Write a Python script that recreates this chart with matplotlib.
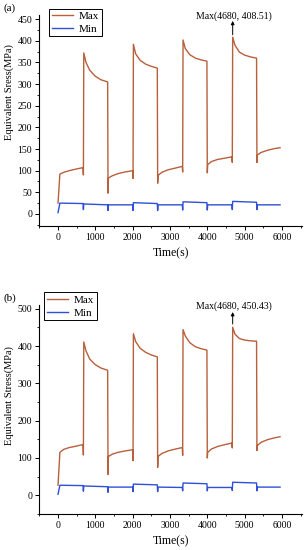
import matplotlib
matplotlib.use('Agg')
import matplotlib.pyplot as plt
from matplotlib.ticker import MultipleLocator

plt.rcParams['font.family'] = ['Liberation Serif', 'DejaVu Serif']

# time points (s)
time_max = [0, 50, 150, 300, 500, 670,
            680, 690, 750, 850, 1000, 1150, 1330,
            1340, 1350, 1450, 1600, 1800, 2000,
            2010, 2020, 2080, 2200, 2350, 2500, 2660,
            2670, 2680, 2780, 2950, 3150, 3330,
            3340, 3350, 3410, 3530, 3680, 3830, 3990,
            4000, 4010, 4110, 4280, 4480, 4660,
            4670, 4680, 4740, 4860, 5000, 5150, 5320,
            5330, 5340, 5440, 5610, 5800, 5950]
time_min = [0, 50, 670, 680, 690, 1330, 1340, 1350, 2000,
            2010, 2020, 2660, 2670, 2680, 3330, 3340, 3350, 3990,
            4000, 4010, 4660, 4670, 4680, 5320, 5330, 5340, 5950]

# panel (a)
max_a = [25, 92, 96, 100, 104, 107,
         90, 372, 350, 332, 318, 310, 305,
         48, 83, 88, 93, 97, 100,
         82, 392, 370, 355, 346, 341, 337,
         71, 89, 96, 102, 106, 110,
         97, 402, 382, 368, 360, 356, 353,
         95, 114, 121, 126, 129, 132,
         119, 408.51, 390, 374, 367, 363, 360,
         119, 136, 142, 147, 151, 153]
min_a = [3, 25, 24, 10, 23, 21, 8, 21, 21,
         8, 26, 24, 8, 21, 21, 9, 28, 26,
         9, 21, 21, 10, 29, 27, 10, 21, 21]

# panel (b)
max_b = [27, 115, 123, 128, 132, 136,
         108, 411, 387, 365, 350, 341, 335,
         56, 104, 110, 115, 119, 122,
         93, 433, 412, 394, 383, 376, 371,
         75, 104, 112, 119, 124, 128,
         107, 444, 427, 409, 398, 393, 389,
         100, 115, 124, 131, 136, 140,
         127, 450.43, 432, 420, 416, 414, 413,
         120, 133, 142, 149, 154, 157]
min_b = [3, 27, 26, 11, 25, 23, 8, 22, 22,
         10, 30, 28, 10, 22, 21, 12, 33, 31,
         12, 21, 21, 13, 35, 33, 12, 22, 22]

max_color = '#b8603c'
min_color = '#2f4fd6'

fig = plt.figure(figsize=(3.07, 5.50), dpi=100)
ax_a = fig.add_axes([0.127, 0.589, 0.857, 0.384])
ax_b = fig.add_axes([0.127, 0.0655, 0.857, 0.380])

panels = [
    (ax_a, max_a, min_a, (-28, 460), 50, 25, 'Equivalent Sress(MPa)', 0.635,
     'Max(4680, 408.51)', 457, (446, 414), (0.038, 1.03)),
    (ax_b, max_b, min_b, (-50, 510), 100, 50, 'Equivalent Stress(MPa)', 0.565,
     'Max(4680, 450.43)', 507, (491, 459), (0.02, 1.06)),
]

for ax, ymax, ymin, ylim, major, minor, ylab, ylab_y, note, note_y, arrow_y, leg_pos in panels:
    ax.plot(time_max, ymax, color=max_color, lw=1.0, label='Max')
    ax.plot(time_min, ymin, color=min_color, lw=1.0, label='Min')
    ax.set_xlim(-510, 6540)
    ax.set_ylim(*ylim)
    ax.xaxis.set_major_locator(MultipleLocator(1000))
    ax.xaxis.set_minor_locator(MultipleLocator(500))
    ax.yaxis.set_major_locator(MultipleLocator(major))
    ax.yaxis.set_minor_locator(MultipleLocator(minor))
    ax.spines['top'].set_visible(False)
    ax.spines['right'].set_visible(False)
    for s in ('left', 'bottom'):
        ax.spines[s].set_linewidth(0.8)
    ax.tick_params(which='major', direction='out', length=3, width=0.7, labelsize=7, pad=2)
    ax.tick_params(which='minor', direction='out', length=1.6, width=0.6)
    ax.set_xlabel('Time(s)', fontsize=8.5)
    ax.set_ylabel(ylab, fontsize=7.5)
    ax.xaxis.set_label_coords(0.5, -0.10)
    ax.yaxis.set_label_coords(-0.095, ylab_y)
    ax.annotate('', xy=(4680, arrow_y[0]), xytext=(4680, arrow_y[1]),
                arrowprops=dict(arrowstyle='-|>', color='black', lw=0.7,
                                mutation_scale=5, shrinkA=0, shrinkB=0),
                annotation_clip=False)
    ax.text(4710, note_y, note, fontsize=7, ha='center', va='center')
    leg = ax.legend(loc='upper left', bbox_to_anchor=leg_pos, fontsize=8,
                    handlelength=1.9, borderpad=0.25, labelspacing=0.25,
                    handletextpad=0.5, fancybox=False, framealpha=1,
                    edgecolor='black', borderaxespad=0)
    leg.get_frame().set_linewidth(0.7)

fig.text(0.01, 0.985, '(a)', fontsize=8, va='center')
fig.text(0.01, 0.458, '(b)', fontsize=8, va='center')

plt.savefig('out.png', dpi=100)
